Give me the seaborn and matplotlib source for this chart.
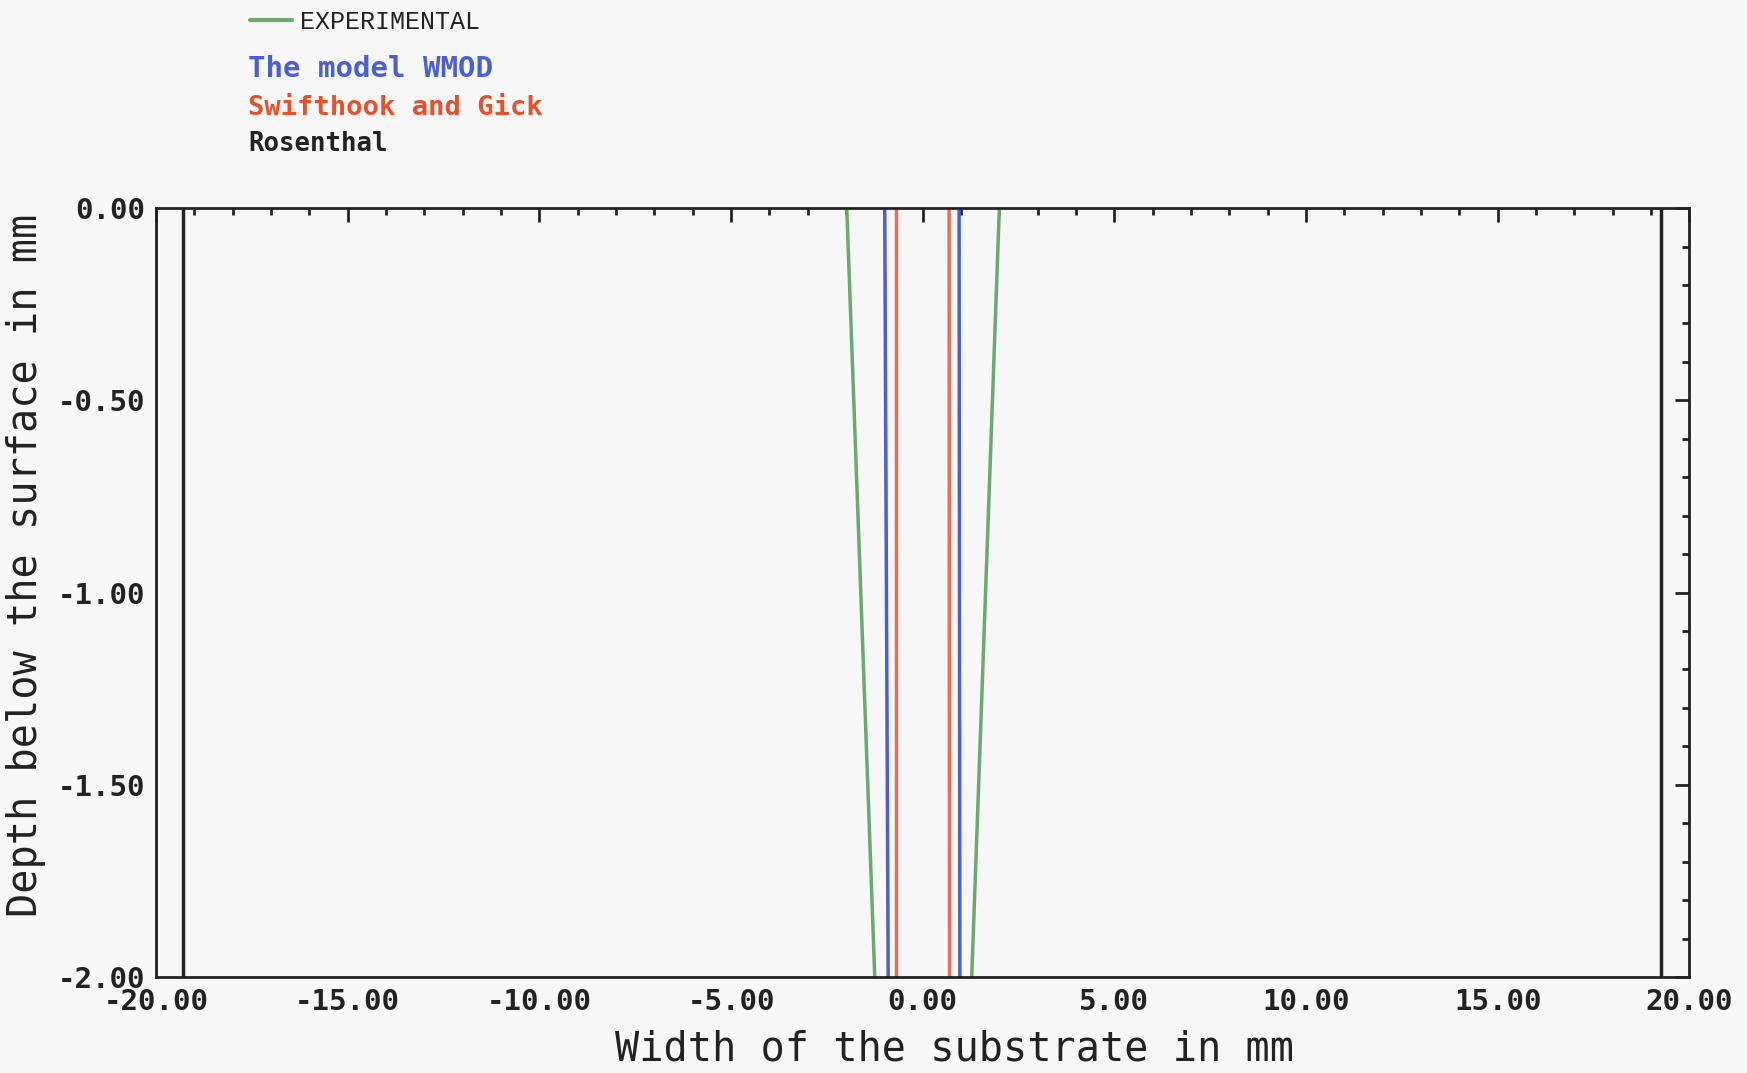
import numpy as np
import pandas as pd
import seaborn as sns
import matplotlib.pyplot as plt
from matplotlib.lines import Line2D
from matplotlib.ticker import MultipleLocator, FormatStrFormatter

# depth levels (mm) at which each profile edge is known
depth_levels = [0.0, -2.0]

# x positions (mm) of each edge: (left edge top, left edge bottom), (right top, right bottom)
experimental_left = [-1.98, -1.25]
experimental_right = [2.00, 1.28]
wmod_left = [-0.99, -0.90]
wmod_right = [0.95, 0.97]
swifthook_left = [-0.70, -0.70]
swifthook_right = [0.69, 0.70]
rosenthal_left = [-19.3, -19.3]
rosenthal_right = [19.25, 19.25]

series_names = ["EXPERIMENTAL", "The model WMOD", "Swifthook and Gick", "Rosenthal"]
series_colors = ["#6aaa6e", "#4a5fd0", "#f06a55", "#222222"]
legend_text_colors = ["#222222", "#4a5fd0", "#e8502c", "#222222"]

x_ticks = [-20, -15, -10, -5, 0, 5, 10, 15, 20]
y_ticks = [0.0, -0.5, -1.0, -1.5, -2.0]


def build_frame():
    rows = []
    edges = [
        ("EXPERIMENTAL", experimental_left, experimental_right),
        ("The model WMOD", wmod_left, wmod_right),
        ("Swifthook and Gick", swifthook_left, swifthook_right),
        ("Rosenthal", rosenthal_left, rosenthal_right),
    ]
    for name, left, right in edges:
        for side, xs in (("left", left), ("right", right)):
            for x, d in zip(xs, depth_levels):
                rows.append({"series": name, "side": side, "x": x, "depth": d})
    return pd.DataFrame(rows)


df = build_frame()

sns.set_theme(style="white")
plt.rcParams["font.family"] = ["DejaVu Sans Mono", "DejaVu Sans"]

fig = plt.figure(figsize=(17.47, 10.73), dpi=100, facecolor="#f7f7f7")
ax = fig.add_axes([0.0893, 0.0895, 0.8777, 0.7165])
ax.set_facecolor("#f7f7f7")

sns.lineplot(data=df, x="x", y="depth", hue="series", units="side",
             estimator=None, sort=False, palette=dict(zip(series_names, series_colors)),
             hue_order=series_names, linewidth=2.5, legend=False, ax=ax)

ax.set_xlim(-20, 20)
ax.set_ylim(-2, 0)
ax.set_xticks(x_ticks)
ax.set_yticks(y_ticks)
ax.xaxis.set_minor_locator(MultipleLocator(1))
ax.yaxis.set_minor_locator(MultipleLocator(0.1))
ax.xaxis.set_major_formatter(FormatStrFormatter("%.2f"))
ax.yaxis.set_major_formatter(FormatStrFormatter("%.2f"))
ax.tick_params(which="both", direction="in", top=True, right=True,
               color="#222222", width=2)
ax.tick_params(which="major", length=10, labelsize=21, labelcolor="#222222", pad=8)
ax.tick_params(which="minor", length=5)
for lab in ax.get_xticklabels() + ax.get_yticklabels():
    lab.set_fontweight("bold")
for s in ax.spines.values():
    s.set_color("#222222")
    s.set_linewidth(2)

ax.set_xlabel("Width of the substrate in mm", fontsize=29, color="#222222")
ax.set_ylabel("Depth below the surface in mm", fontsize=29, color="#222222")
ax.xaxis.set_label_coords(0.521, -0.068)
ax.yaxis.set_label_coords(-0.072, 0.536)

# legend, drawn as in the original plotter output
W, H = 1747, 1073
fig.add_artist(Line2D([250 / W, 292 / W], [1 - 20 / H, 1 - 20 / H],
                      color=series_colors[0], linewidth=3))
fig.text(300 / W, 1 - 22 / H, series_names[0], fontsize=18, color=legend_text_colors[0],
         va="center", ha="left", family=["Liberation Mono", "DejaVu Sans Mono"])
legend_y = [69, 108, 144]
legend_size = [21, 19.5, 18.5]
for name, col, yy, fs in zip(series_names[1:], legend_text_colors[1:], legend_y, legend_size):
    fig.text(248 / W, 1 - yy / H, name, fontsize=fs, color=col, weight="bold",
             va="center", ha="left")

fig.savefig("out.png", dpi=100, facecolor=fig.get_facecolor())
